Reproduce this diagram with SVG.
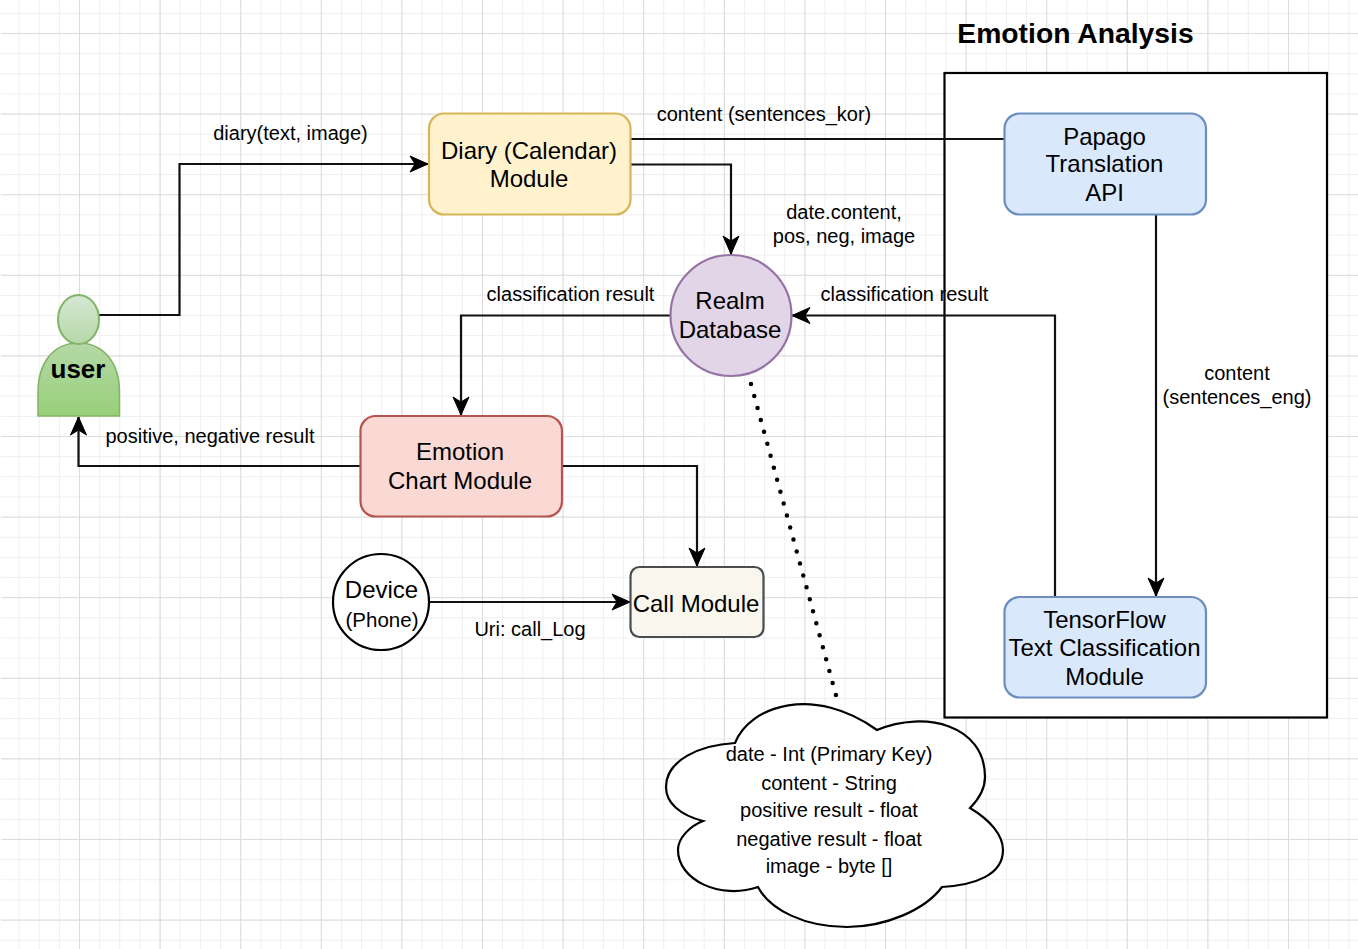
<svg xmlns="http://www.w3.org/2000/svg" width="1358" height="949" viewBox="0 0 1358 949">
<style>
text{font-family:"Liberation Sans",Arial,sans-serif;fill:#000;text-anchor:middle}
.n{font-size:24px}
.l{font-size:20px}
.c{fill:none;stroke:#111;stroke-width:2.200px}
.a{marker-end:url(#arr)}
.box{stroke-width:2.200px}
</style>
<defs>
<marker id="arr" markerUnits="userSpaceOnUse" markerWidth="22" markerHeight="22" refX="19" refY="11" orient="auto"><path d="M1 3L19 11L1 19L6 11Z" fill="#000" stroke="#000"/></marker>
<pattern id="minor" patternUnits="userSpaceOnUse" x="-1.600" y="33" width="20.150" height="20.150"><path d="M0 0H20.150M0 0V20.150" fill="none" stroke="#eeeeee" stroke-width="2"/></pattern>
<pattern id="major" patternUnits="userSpaceOnUse" x="-1.600" y="33" width="80.600" height="80.600"><path d="M0 0H80.600M0 0V80.600" fill="none" stroke="#dcdcdc" stroke-width="2"/></pattern>
<linearGradient id="gh" x1="0" y1="0" x2="0" y2="1"><stop offset="0" stop-color="#d5e8d4"/><stop offset="1" stop-color="#b5d8a8"/></linearGradient>
<linearGradient id="gb" x1="0" y1="0" x2="0" y2="1"><stop offset="0" stop-color="#b5d8a8"/><stop offset="1" stop-color="#97d077"/></linearGradient>
</defs>
<rect width="1358" height="949" fill="#fff"/>
<g id="grid"><rect x="1" y="0" width="1357" height="949" fill="url(#minor)"/><rect x="1" y="0" width="1357" height="949" fill="url(#major)"/></g>
<g id="emotion-analysis"><rect x="944.500" y="73" width="382.500" height="644.500" fill="#fff" stroke="#000" stroke-width="2.200"/>
<text x="1075.500" y="43" font-weight="bold" style="font-size:28.300px">Emotion Analysis</text></g>
<g id="connectors">
<path class="c a" d="M99 315H179.500V164H428"/>
<path class="c" d="M631 139H1004"/>
<path class="c a" d="M631 164.500H731V254"/>
<path class="c a" d="M1156 214V596"/>
<path class="c a" d="M1055 597V315.500H792"/>
<path class="c a" d="M670 315.500H461V415"/>
<path class="c a" d="M360 466H78.500V417"/>
<path class="c a" d="M562 466H697V566"/>
<path class="c a" d="M429 602H630"/>
<path d="M751 384L837 699" fill="none" stroke="#000" stroke-width="4.500" stroke-linecap="round" stroke-dasharray="0 12.400"/>
</g>
<g id="user">
<path d="M38 416V392C38 362 54 343 78.500 343C103 343 119.500 362 119.500 392V416Z" fill="url(#gb)" stroke="#82b366" stroke-width="1.500"/>
<ellipse cx="78.500" cy="319.500" rx="20.500" ry="24.500" fill="url(#gh)" stroke="#82b366" stroke-width="2"/>
<text x="78" y="378" font-weight="bold" style="font-size:26px">user</text>
</g>
<g id="diary"><rect class="box" x="429" y="113.500" width="201.500" height="101" rx="15" fill="#fff2cc" stroke="#d6b656"/>
<text class="n" x="529" y="159">Diary (Calendar)</text><text class="n" x="529" y="187">Module</text></g>
<g id="papago"><rect class="box" x="1004.500" y="113.500" width="201.500" height="101" rx="15" fill="#dae8fc" stroke="#6c8ebf"/>
<text class="n" x="1104.500" y="145">Papago</text><text class="n" x="1104.500" y="172">Translation</text><text class="n" x="1104.500" y="201">API</text></g>
<g id="tensorflow"><rect class="box" x="1004.500" y="597" width="201.500" height="100.500" rx="15" fill="#dae8fc" stroke="#6c8ebf"/>
<text class="n" x="1104.500" y="628">TensorFlow</text><text class="n" x="1104.500" y="656">Text Classification</text><text class="n" x="1104.500" y="685">Module</text></g>
<g id="realm"><circle cx="731" cy="315.500" r="60.500" fill="#e1d5e7" stroke="#9673a6" stroke-width="2.200"/>
<text class="n" x="730" y="309">Realm</text><text class="n" x="730" y="338">Database</text></g>
<g id="chart"><rect class="box" x="360.500" y="416" width="201.500" height="100.500" rx="15" fill="#fad9d5" stroke="#b85450"/>
<text class="n" x="460" y="460">Emotion</text><text class="n" x="460" y="489">Chart Module</text></g>
<g id="call"><rect class="box" x="630.500" y="567" width="133" height="70" rx="9" fill="#f9f7ed" stroke="#4a4d50"/>
<text class="n" x="696" y="612">Call Module</text></g>
<g id="device"><circle cx="381" cy="602" r="48" fill="#fff" stroke="#000" stroke-width="2.200"/>
<text class="n" x="381.500" y="598">Device</text><text x="382" y="627" style="font-size:20.500px">(Phone)</text></g>
<g id="cloud"><path d="M735 743C750 705 815 685 877 730C925 710 985 725 985 777C985 790 978 800 970 808C990 820 1003 835 1003 850C1003 875 975 885 942 887C925 910 885 927 847 927C805 927 770 910 758 887C720 900 678 880 678 850C678 838 690 826 703 821C680 815 666 803 666 787C666 760 700 745 735 743Z" fill="#fff" stroke="#000" stroke-width="2.200"/>
<text class="l" x="829" y="761">date - Int (Primary Key)</text><text class="l" x="829" y="790">content - String</text><text class="l" x="829" y="817">positive result - float</text><text class="l" x="829" y="846">negative result - float</text><text class="l" x="829" y="873">image - byte []</text></g>
<g id="labels">
<text class="l" x="290.500" y="140">diary(text, image)</text>
<text class="l" x="764" y="121">content (sentences_kor)</text>
<text class="l" x="844" y="219">date.content,</text><text class="l" x="844" y="243">pos, neg, image</text>
<text class="l" x="570.500" y="301">classification result</text>
<text class="l" x="904.500" y="301">classification result</text>
<text class="l" x="1237" y="380">content</text><text class="l" x="1237" y="404">(sentences_eng)</text>
<text class="l" x="210" y="443">positive, negative result</text>
<text class="l" x="530" y="636">Uri: call_Log</text>
</g>
</svg>
